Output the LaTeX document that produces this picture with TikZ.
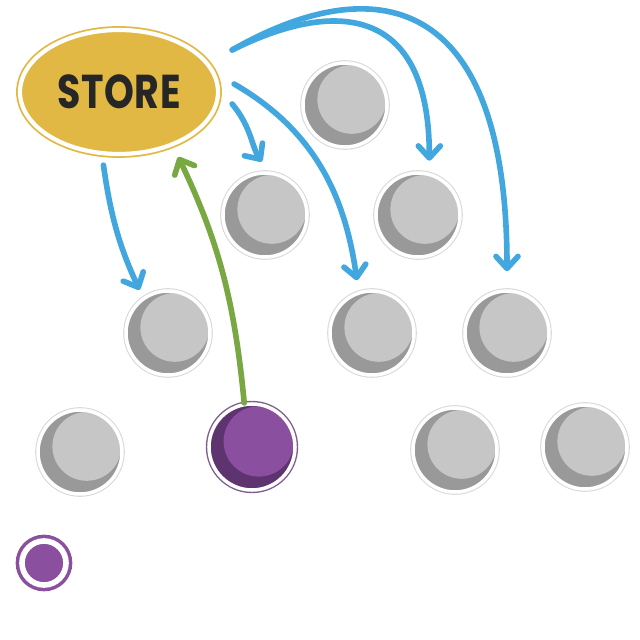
\documentclass[tikz,border=0pt]{standalone}
\usepackage{fontspec}
\newfontfamily\storefont[LetterSpace=2]{Poppins}
\usepackage{tikz}
\usetikzlibrary{shapes.geometric, arrows.meta, calc}
\definecolor{storeyellow}{HTML}{E0B843}
\definecolor{balllight}{HTML}{C6C6C6}
\definecolor{balldark}{HTML}{999999}
\definecolor{ballring}{HTML}{D8D8D8}
\definecolor{plum}{HTML}{8A4F9E}
\definecolor{plumdark}{HTML}{5E3470}
\definecolor{linkblue}{HTML}{42A7DF}
\definecolor{linkgreen}{HTML}{79A843}

\begin{document}
\begin{tikzpicture}[
    x=0.025cm, y=0.025cm,
    storebox/.style={ellipse, minimum width=4.95cm, minimum height=3.1cm, inner sep=0pt, fill=storeyellow, draw=white, line width=3pt, preaction={draw=storeyellow, line width=5.5pt}, font=\storefont\bfseries\fontsize{27}{27}\selectfont, text=black!85},
    ball/.style={circle, minimum size=2.1cm, inner sep=0pt, fill=balldark, draw=white, line width=2.5pt, preaction={draw=ballring, line width=4pt},
        path picture={\fill[balllight] ([shift={(0.17cm,0.14cm)}]path picture bounding box.center) circle (0.86cm);}},
    pball/.style={circle, minimum size=2.15cm, inner sep=0pt, fill=plumdark, draw=white, line width=2.5pt, preaction={draw=plumdark!80, line width=4.5pt},
        path picture={\fill[plum] ([shift={(0.17cm,0.14cm)}]path picture bounding box.center) circle (0.88cm);}},
    dotbox/.style={circle, minimum size=1.1cm, inner sep=0pt, fill=plum, draw=white, line width=4pt, preaction={draw=plum, line width=9pt}},
    flow/.style={line width=4pt, line cap=round, -{Straight Barb[length=0.3cm, width=0.55cm, round]}},
    blueflow/.style={flow, draw=linkblue},
    greenflow/.style={flow, draw=linkgreen}
]
\useasboundingbox (0,0) rectangle (640,640);

% Nodo principal
\node[storebox] (store) at (119,548) {\scalebox{1}[1.25]{STORE}};

% Bolas grises
\foreach \n/\x/\y in {ballA/345/535, ballB/265/425, ballC/418/425, ballD/168/307, ballE/372/307, ballF/507/307, ballG/80/188, ballI/455/190, ballJ/585/193} {
    \node[ball] (\n) at (\x,\y) {};
}

% Bolas moradas
\node[pball] (ballH) at (252,193) {};
\node[dotbox] (dot) at (44,77) {};

% Flechas azules
\draw[blueflow, shorten <=0.25cm, shorten >=0.2cm] (store.255) to[out=-82, in=115] (ballD.125);
\draw[blueflow, shorten >=0.3cm] ([shift={(0.3cm,-0.3cm)}]store.east) to[out=-50, in=125] (ballB.85);
\draw[blueflow, shorten >=0.28cm] ([shift={(0.35cm,0.2cm)}]store.east) to[out=-30, in=98] (ballE.108);
\draw[blueflow, shorten >=0.3cm] ([shift={(0.3cm,1.05cm)}]store.east) .. controls +(100,50) and +(0,170) .. (ballC.75);
\draw[blueflow, shorten >=0.45cm] ([shift={(0.3cm,1.05cm)}]store.east) .. controls +(140,80) and +(0,300) .. (ballF.north);

% Flecha verde
\draw[greenflow, shorten >=0.3cm] (ballH.100) to[bend right=10] (store.-45);

\end{tikzpicture}
\end{document}
